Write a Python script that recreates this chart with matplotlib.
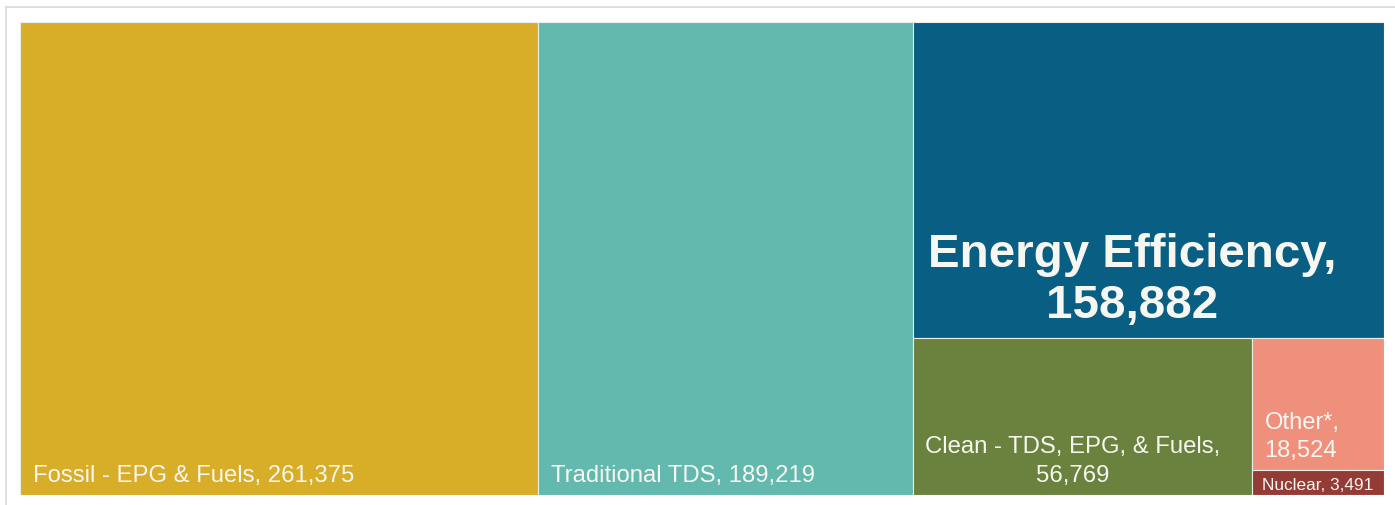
import matplotlib.pyplot as plt
from matplotlib.patches import Rectangle
from matplotlib.lines import Line2D

plt.rcParams['font.family'] = ['Liberation Sans', 'DejaVu Sans']

# data
labels = ['Fossil - EPG & Fuels', 'Traditional TDS', 'Energy Efficiency',
          'Clean - TDS, EPG, & Fuels', 'Other*', 'Nuclear']
values = [261375, 189219, 158882, 56769, 18524, 3491]
colors = ['#D8AD28', '#63B9AE', '#095E84', '#6A823E', '#EE907B', '#953B35']

W, H = 1395, 506
fig = plt.figure(figsize=(W / 100, H / 100), dpi=100)
fig.patch.set_facecolor('white')

# light grey frame (top and left)
fig.add_artist(Line2D([6 / W, 1], [1 - 8 / H, 1 - 8 / H], color='#d9d9d9', lw=1.2))
fig.add_artist(Line2D([6 / W, 6 / W], [0, 1 - 8 / H], color='#d9d9d9', lw=1.2))

ax = fig.add_axes([20 / W, 10 / H, 1364 / W, 473 / H])
ax.set_xlim(0, 1)
ax.set_ylim(0, 1)
ax.axis('off')

# slice-and-dice layout computed from the values
total = sum(values)
rest = sum(values[2:])
low = sum(values[3:])
side = sum(values[4:])

w0 = values[0] / total
w1 = values[1] / total
w2 = rest / total
h_ee = values[2] / rest
h_low = 1 - h_ee
w_clean = values[3] / low * w2
w_side = w2 - w_clean
h_other = values[4] / side * h_low
h_nuc = h_low - h_other

x2 = w0 + w1
rects = [
    (0, 0, w0, 1),
    (w0, 0, w1, 1),
    (x2, h_low, w2, h_ee),
    (x2, 0, w_clean, h_low),
    (x2 + w_clean, h_nuc, w_side, h_other),
    (x2 + w_clean, 0, w_side, h_nuc),
]

for (x, y, w, h), c in zip(rects, colors):
    ax.add_patch(Rectangle((x, y), w, h, facecolor=c, edgecolor='#e8eee8', lw=0.8))


def fmt(v):
    return f'{v:,}'


tc = '#f7f7f2'
ax.annotate(f'{labels[0]}, {fmt(values[0])}', xy=(rects[0][0], rects[0][1]),
            xytext=(13, 14), textcoords='offset pixels', color=tc, fontsize=17.2,
            ha='left', va='baseline')
ax.annotate(f'{labels[1]}, {fmt(values[1])}', xy=(rects[1][0], rects[1][1]),
            xytext=(13, 14), textcoords='offset pixels', color=tc, fontsize=17.2,
            ha='left', va='baseline')
ax.annotate(f'{labels[2]},\n{fmt(values[2])}', xy=(rects[2][0], rects[2][1]),
            xytext=(15, 21), textcoords='offset pixels', color=tc, fontsize=34.2,
            fontweight='bold', ha='left', va='baseline', multialignment='center',
            linespacing=1.21)
ax.annotate(f'{labels[3]},\n{fmt(values[3])}', xy=(rects[3][0], rects[3][1]),
            xytext=(12, 14), textcoords='offset pixels', color=tc, fontsize=17.2,
            ha='left', va='baseline', multialignment='center', linespacing=1.41)
ax.annotate(f'{labels[4]},\n{fmt(values[4])}', xy=(rects[4][0], rects[4][1]),
            xytext=(12, 14), textcoords='offset pixels', color=tc, fontsize=17.1,
            ha='left', va='baseline', multialignment='left', linespacing=1.37)
ax.annotate(f'{labels[5]}, {fmt(values[5])}', xy=(rects[5][0], rects[5][1]),
            xytext=(10, 6), textcoords='offset pixels', color=tc, fontsize=12.4,
            ha='left', va='baseline')

fig.savefig('out.png', dpi=100)
